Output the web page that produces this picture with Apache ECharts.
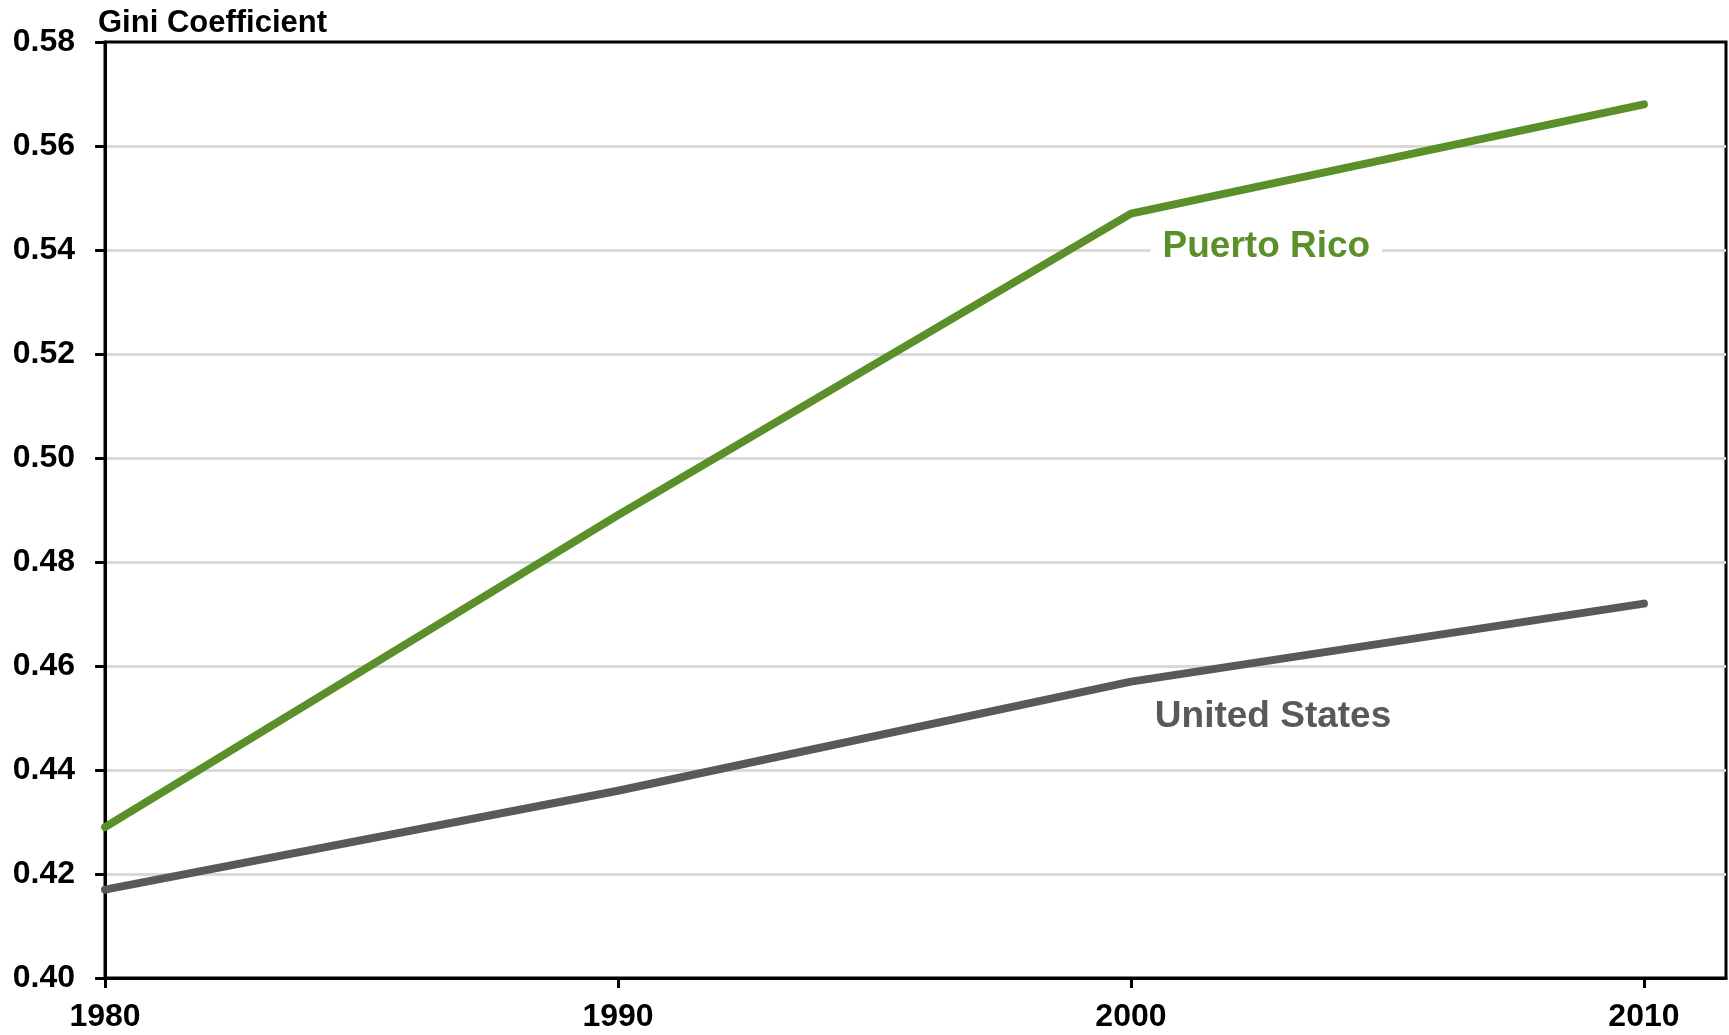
<!DOCTYPE html>
<html>
<head>
<meta charset="utf-8">
<title>Gini Coefficient: Puerto Rico and United States</title>
<script src="https://cdn.jsdelivr.net/npm/echarts@6/dist/echarts.min.js"></script>
<style>
  html, body { margin: 0; padding: 0; background: #ffffff; }
  #chart { width: 1729px; height: 1035px; }
</style>
</head>
<body>
<div id="chart"></div>
<script>
// Census years on the horizontal axis
const years = [1980, 1990, 2000, 2010];

// Gini coefficient by year
const puertoRico = [0.429, 0.489, 0.547, 0.568];
const unitedStates = [0.417, 0.436, 0.457, 0.472];

// Where each series name sits inside the plot (year, Gini)
const puertoRicoLabelAt = [2002.64, 0.5406];
const unitedStatesLabelAt = [2002.77, 0.4503];

const FONT = 'Liberation Sans, Arial, Helvetica, sans-serif';
const GREEN = '#5b8f29';
const GRAY = '#595959';

const pairs = (xs, ys) => xs.map((x, i) => [x, ys[i]]);

const chart = echarts.init(document.getElementById('chart'), null, { renderer: 'canvas' });

chart.setOption({
  animation: false,
  backgroundColor: '#ffffff',
  textStyle: { fontFamily: FONT },
  title: {
    text: 'Gini Coefficient',
    left: 93,
    top: 3,
    textStyle: { fontFamily: FONT, fontSize: 31, fontWeight: 'bold', color: '#000000' }
  },
  grid: {
    left: 105, top: 42, right: 3, bottom: 57,
    show: true,
    borderColor: '#000000',
    borderWidth: 3,
    backgroundColor: 'transparent'
  },
  xAxis: {
    type: 'value',
    min: 1980,
    max: 2011.6,
    interval: 10,
    axisLine: { show: true, onZero: false, lineStyle: { color: '#000000', width: 3 } },
    axisTick: {
      show: true, length: 10, inside: false,
      customValues: years,
      lineStyle: { color: '#000000', width: 3 }
    },
    axisLabel: {
      customValues: years,
      margin: 23,
      fontFamily: FONT, fontSize: 32, fontWeight: 'bold', color: '#000000',
      formatter: v => String(Math.round(v))
    },
    splitLine: { show: false }
  },
  yAxis: {
    type: 'value',
    min: 0.40,
    max: 0.58,
    interval: 0.02,
    axisLine: { show: true, onZero: false, lineStyle: { color: '#000000', width: 3 } },
    axisTick: { show: true, length: 10, inside: false, lineStyle: { color: '#000000', width: 3 } },
    axisLabel: {
      margin: 30,
      fontFamily: FONT, fontSize: 32, fontWeight: 'bold', color: '#000000',
      formatter: v => v.toFixed(2)
    },
    splitLine: {
      show: true,
      showMinLine: false,
      showMaxLine: false,
      lineStyle: { color: '#d9d9d9', width: 3 }
    }
  },
  series: [
    {
      name: 'Puerto Rico',
      type: 'line',
      data: pairs(years, puertoRico),
      showSymbol: false,
      symbol: 'none',
      lineStyle: { color: GREEN, width: 8, cap: 'round', join: 'round' },
      z: 3,
      markPoint: {
        symbol: 'circle',
        symbolSize: 0,
        silent: true,
        data: [{ coord: puertoRicoLabelAt, value: 'Puerto Rico' }],
        label: {
          show: true,
          position: 'inside',
          formatter: 'Puerto Rico',
          fontFamily: FONT, fontSize: 37, fontWeight: 'bold', color: GREEN,
          backgroundColor: '#ffffff',
          padding: [2, 12, 2, 12]
        }
      }
    },
    {
      name: 'United States',
      type: 'line',
      data: pairs(years, unitedStates),
      showSymbol: false,
      symbol: 'none',
      lineStyle: { color: GRAY, width: 8, cap: 'round', join: 'round' },
      z: 3,
      markPoint: {
        symbol: 'circle',
        symbolSize: 0,
        silent: true,
        data: [{ coord: unitedStatesLabelAt, value: 'United States' }],
        label: {
          show: true,
          position: 'inside',
          formatter: 'United States',
          fontFamily: FONT, fontSize: 37, fontWeight: 'bold', color: GRAY,
          padding: [2, 12, 2, 12]
        }
      }
    }
  ]
});
</script>
</body>
</html>
